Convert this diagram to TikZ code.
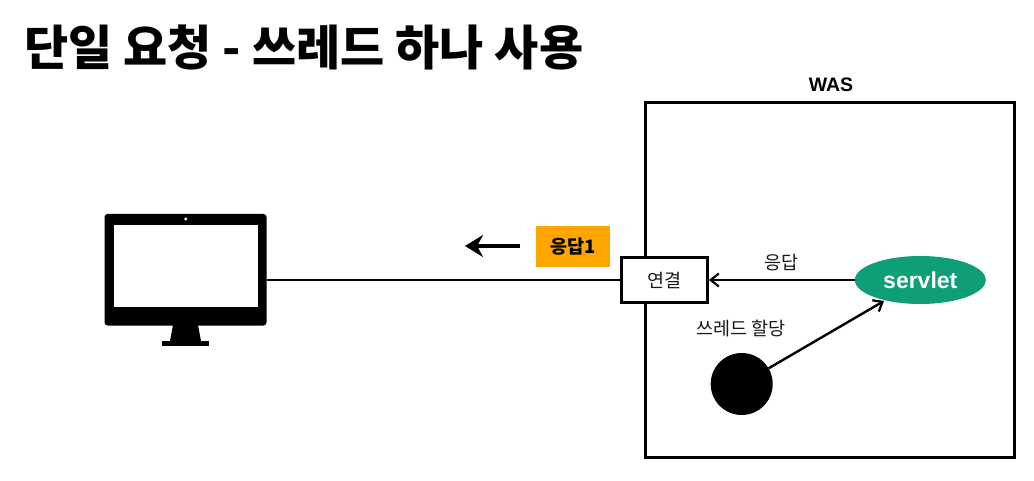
\documentclass[tikz,border=0pt]{standalone}
\usepackage{fontspec}
\setmainfont{Noto Sans CJK KR}
\newfontfamily\latinb{Liberation Sans}[BoldFont={Liberation Sans Bold}]
\usetikzlibrary{arrows.meta,shapes.geometric}
\definecolor{orangefill}{HTML}{FFA500}
\definecolor{servgreen}{HTML}{0E9F78}
\tikzset{
  x=1pt,y=-1pt,
  lbl/.style={inner sep=0pt,font=\fontsize{18.5}{22}\selectfont,text=black!90},
  conn/.style={line width=2.4pt,draw=black},
  openarrow/.style={-{Straight Barb[length=8pt,width=13pt,line width=2.2pt]}},
}
\begin{document}
\begin{tikzpicture}
\useasboundingbox (0,0) rectangle (1034,481);
\fill[white] (0,0) rectangle (1034,481);
% title
\node[anchor=west,inner sep=0pt,font=\fontsize{48}{56}\selectfont\bfseries] (title) at (24,48) {단일 요청 - 쓰레드 하나 사용};
% WAS
\node[draw,line width=2.8pt,minimum width=369pt,minimum height=355pt,inner sep=0pt] (was) at (830,280) {};
\node[inner sep=0pt,font=\fontsize{19.5}{22}\selectfont\latinb\bfseries] (waslabel) at (831,85) {WAS};
% monitor
\fill[rounded corners=3pt] (104.5,214) rectangle (266.5,325.5);
\fill[white] (113.5,225) rectangle (257.5,306.5);
\fill[white] (185.7,219) circle (1.6);
\fill (173,325) -- (198,325) -- (201,341) -- (170,341) -- cycle;
\fill (162,340.5) rectangle (209,345.5);
\coordinate (monitor) at (266.5,280);
% connection box
\node[draw,line width=3pt,fill=white,minimum width=86pt,minimum height=45pt,inner sep=0pt,lbl] (conn) at (664.5,280) {연결};
\draw[conn] (monitor) -- (conn.west);
% orange
\node[fill=orangefill,minimum width=74pt,minimum height=41pt,inner sep=0pt,font=\fontsize{18.5}{22}\selectfont\bfseries] (resp1) at (573,246.3) {응답1};
% hand arrow
\coordinate (hs) at (520,246);
\coordinate (he) at (465,246);
\draw[line width=3.4pt,-{Stealth[length=18pt,width=22pt]}] (hs) -- (he);
% servlet
\node[ellipse,fill=servgreen,minimum width=131pt,minimum height=48pt,inner sep=0pt,text=white,font=\fontsize{23}{26}\selectfont\latinb\bfseries] (servlet) at (920.3,280) {servlet};
\draw[conn,openarrow] (servlet.west) -- (conn.east);
\node[lbl] (resplabel) at (781.5,263) {응답};
% thread
\node[circle,fill=black,minimum size=62pt,inner sep=0pt] (thread) at (741.7,384) {};
\draw[conn,openarrow] (thread) -- (884,301);
\node[lbl] (threadlabel) at (741,328) {쓰레드 할당};
\end{tikzpicture}
\end{document}
